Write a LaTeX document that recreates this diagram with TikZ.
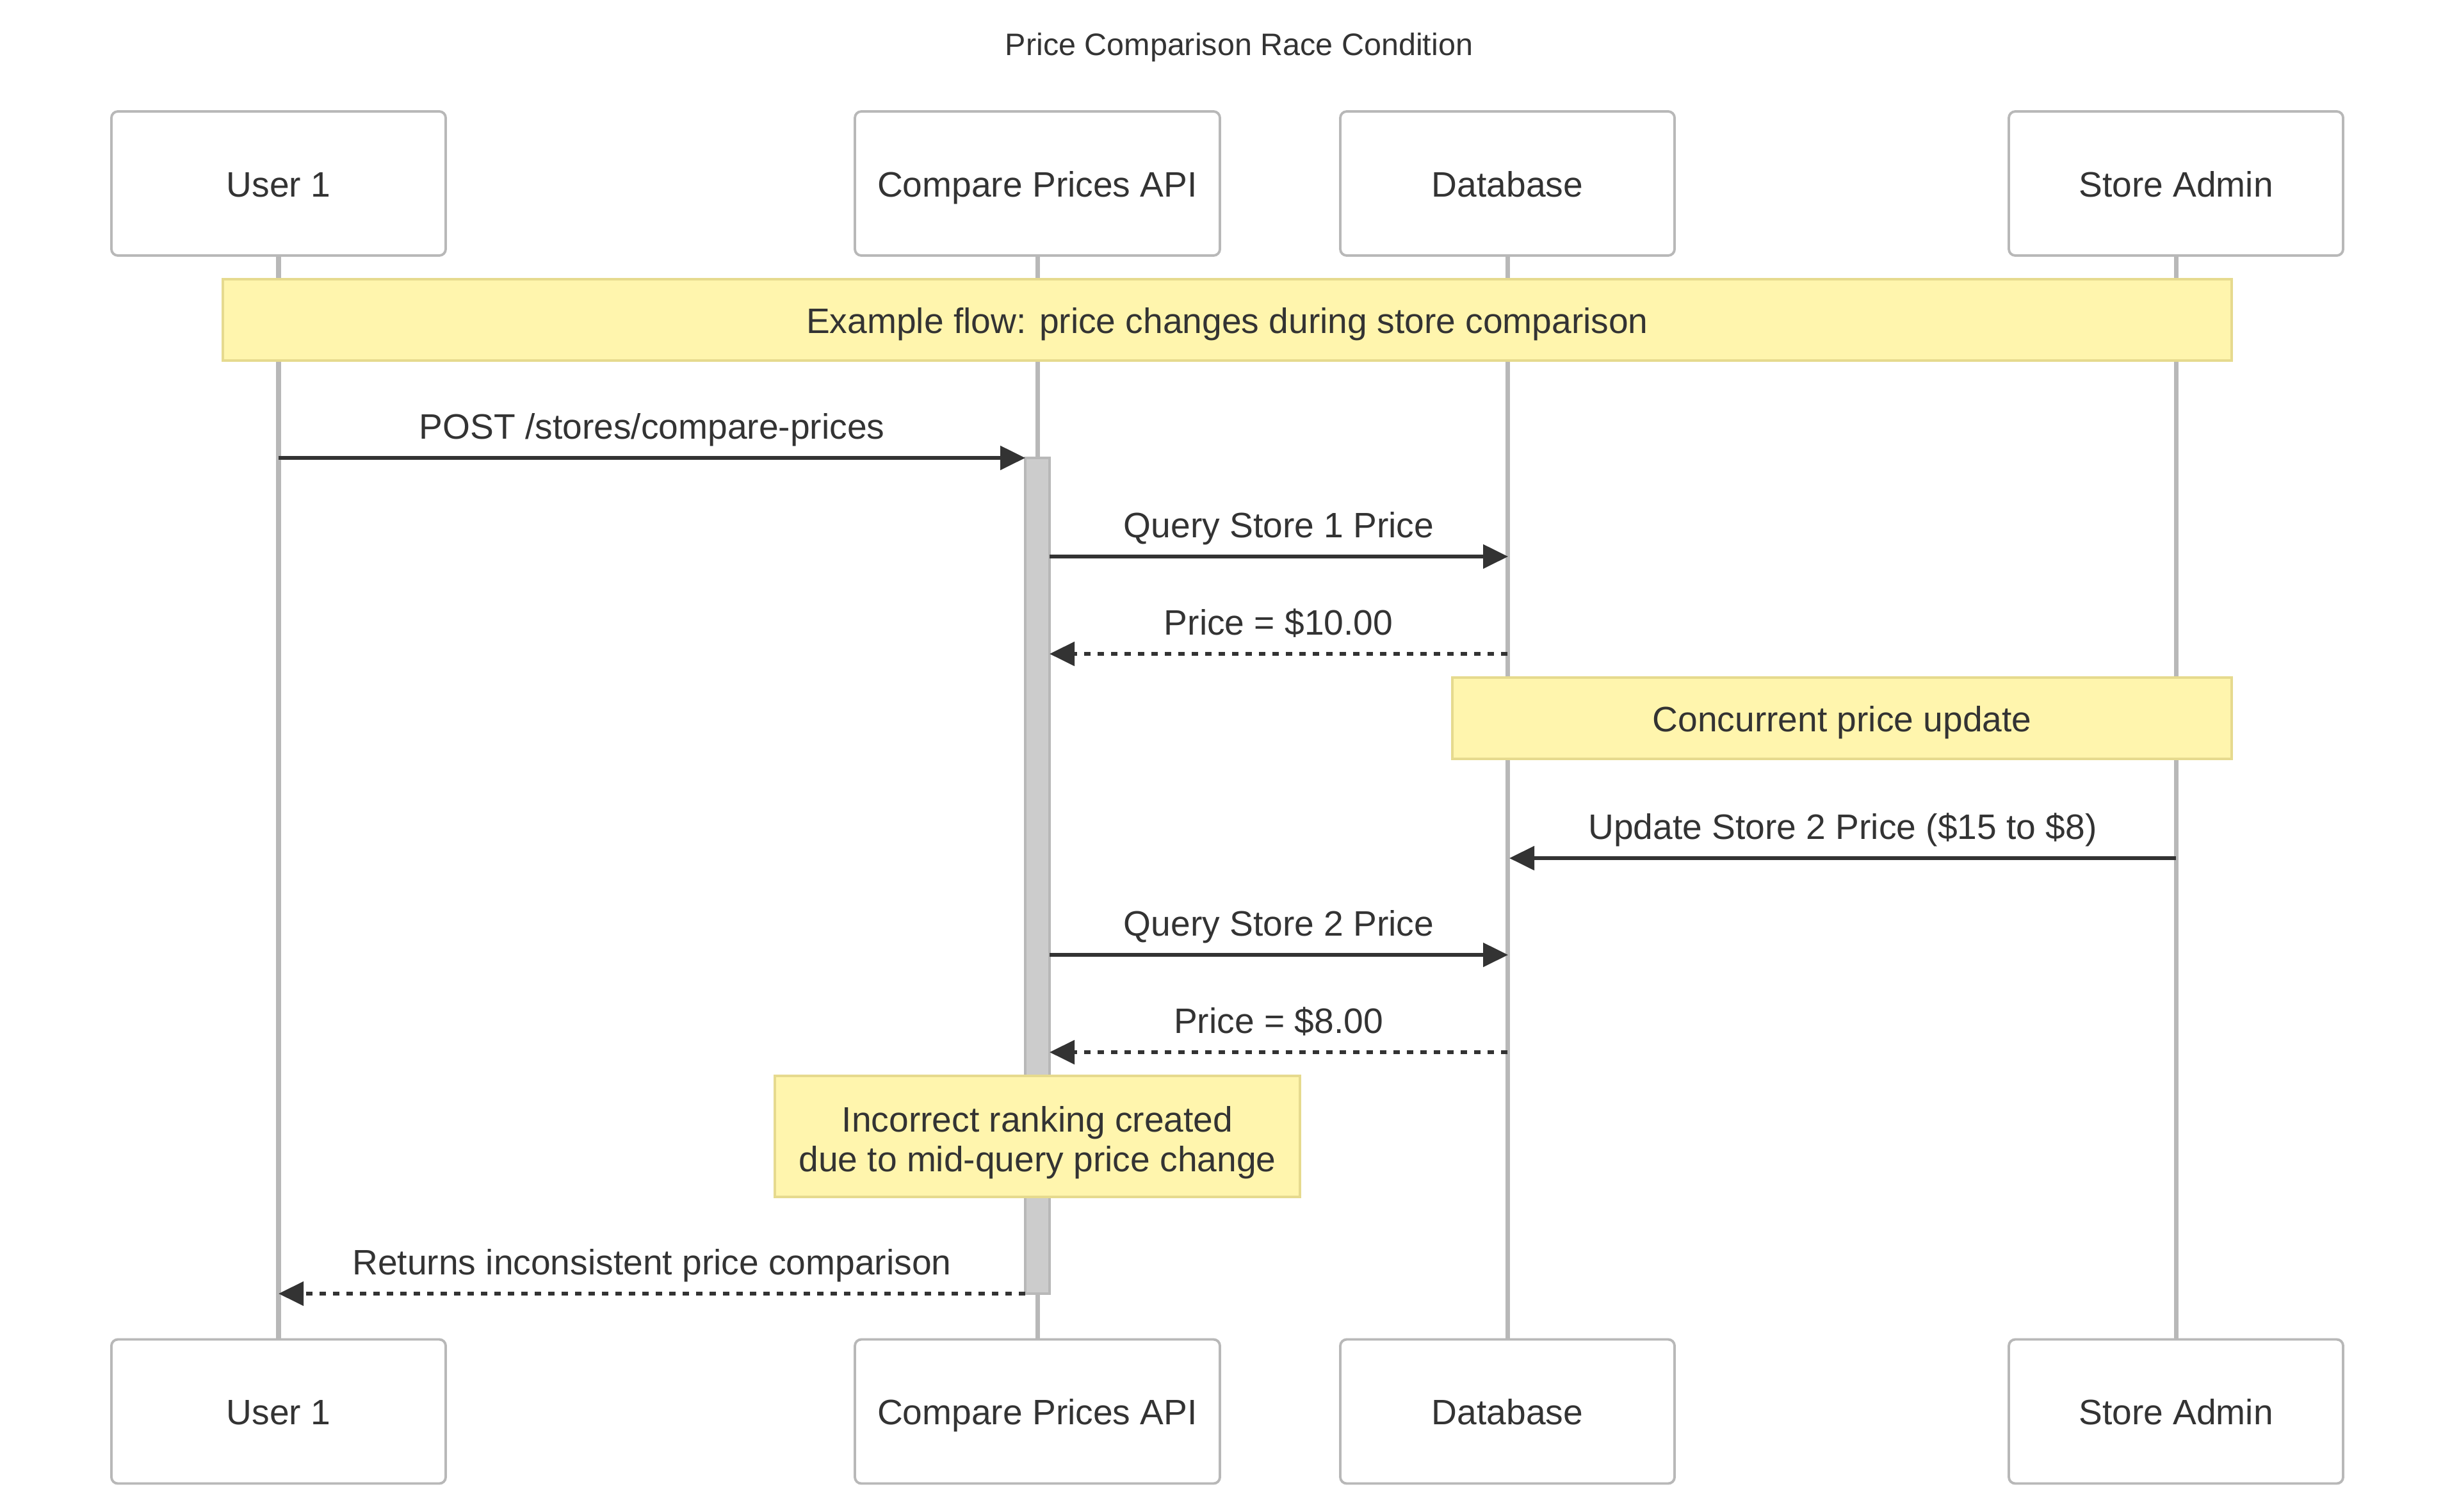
\documentclass[tikz,border=0pt]{standalone}
\usepackage{fontspec}
\setmainfont{Liberation Sans}
\usetikzlibrary{arrows.meta}
\definecolor{testo}{HTML}{333333}
\definecolor{linea}{HTML}{B8B8B8}
\definecolor{fondonota}{HTML}{FFF5AD}
\definecolor{bordonota}{HTML}{E6DA8E}
\definecolor{attivo}{HTML}{CCCCCC}
\tikzset{
>={Triangle[length=0.39cm,width=0.37cm]},
actor node/.style={draw=linea,line width=1.1pt,rounded corners=0.1cm,fill=white,minimum width=5.22cm,minimum height=2.25cm,text=testo,text height=0.41cm,text depth=0cm},
note node/.style={draw=bordonota,fill=fondonota,line width=1.1pt,text=testo,align=center,inner sep=0pt,text height=0.41cm,text depth=0cm},
vita/.style={draw=linea,line width=2pt},
freccia/.style={->,draw=testo,line width=1.5pt},
ritorno/.style={freccia,dash pattern=on 0.105cm off 0.105cm},
etichetta/.style={midway,anchor=base,yshift=0.3cm,text=testo}}

\begin{document}
\begin{tikzpicture}[font=\fontsize{15.7}{17.4}\selectfont]
\useasboundingbox (0,0) rectangle (38.4,-23.6);

\node[text=testo,font=\fontsize{13.8}{16}\selectfont] (titolo) at (19.35,-0.74) {Price Comparison Race Condition};

% partecipanti
\node[actor node] (u) at (4.35,-2.865) {User 1};
\node[actor node,minimum width=5.7cm] (api) at (16.2,-2.865) {Compare Prices API};
\node[actor node] (db) at (23.54,-2.865) {Database};
\node[actor node] (adm) at (33.98,-2.865) {Store Admin};
\node[actor node] (ub) at (4.35,-22.04) {User 1};
\node[actor node,minimum width=5.7cm] (apib) at (16.2,-22.04) {Compare Prices API};
\node[actor node] (dbb) at (23.54,-22.04) {Database};
\node[actor node] (admb) at (33.98,-22.04) {Store Admin};

\draw[vita] (u) -- (ub);
\draw[vita] (api) -- (apib);
\draw[vita] (db) -- (dbb);
\draw[vita] (adm) -- (admb);

\node[draw=linea,fill=attivo,line width=1.1pt,minimum width=0.38cm,minimum height=13.05cm,inner sep=0pt] (act) at (16.2,-13.675) {};

\node[note node,minimum width=31.37cm,minimum height=1.27cm] (n1) at (19.165,-4.995) {Example flow: price changes during store comparison};
\node[note node,minimum width=12.17cm,minimum height=1.27cm] (n2) at (28.765,-11.215) {Concurrent price update};
\node[note node,minimum width=8.2cm,minimum height=1.89cm,text height=1.09cm] (n3) at (16.2,-17.745) {Incorrect ranking created\\due to mid-query price change};

% messaggi
\coordinate (m1a) at (4.35,-7.15);   \coordinate (m1b) at (16.01,-7.15);
\coordinate (m2a) at (16.39,-8.69);  \coordinate (m2b) at (23.55,-8.69);
\coordinate (m3a) at (23.54,-10.21); \coordinate (m3b) at (16.39,-10.21);
\coordinate (m4a) at (33.98,-13.40); \coordinate (m4b) at (23.57,-13.40);
\coordinate (m5a) at (16.39,-14.91); \coordinate (m5b) at (23.55,-14.91);
\coordinate (m6a) at (23.54,-16.43); \coordinate (m6b) at (16.39,-16.43);
\coordinate (m7a) at (16.01,-20.20); \coordinate (m7b) at (4.35,-20.20);

\draw[freccia] (m1a) -- (m1b) node[etichetta] {POST /stores/compare-prices};
\draw[freccia] (m2a) -- (m2b) node[etichetta] {Query Store 1 Price};
\draw[ritorno] (m3a) -- (m3b) node[etichetta] {Price = \$10.00};
\draw[freccia] (m4a) -- (m4b) node[etichetta] {Update Store 2 Price (\$15 to \$8)};
\draw[freccia] (m5a) -- (m5b) node[etichetta] {Query Store 2 Price};
\draw[ritorno] (m6a) -- (m6b) node[etichetta] {Price = \$8.00};
\draw[ritorno] (m7a) -- (m7b) node[etichetta] {Returns inconsistent price comparison};

\end{tikzpicture}
\end{document}
